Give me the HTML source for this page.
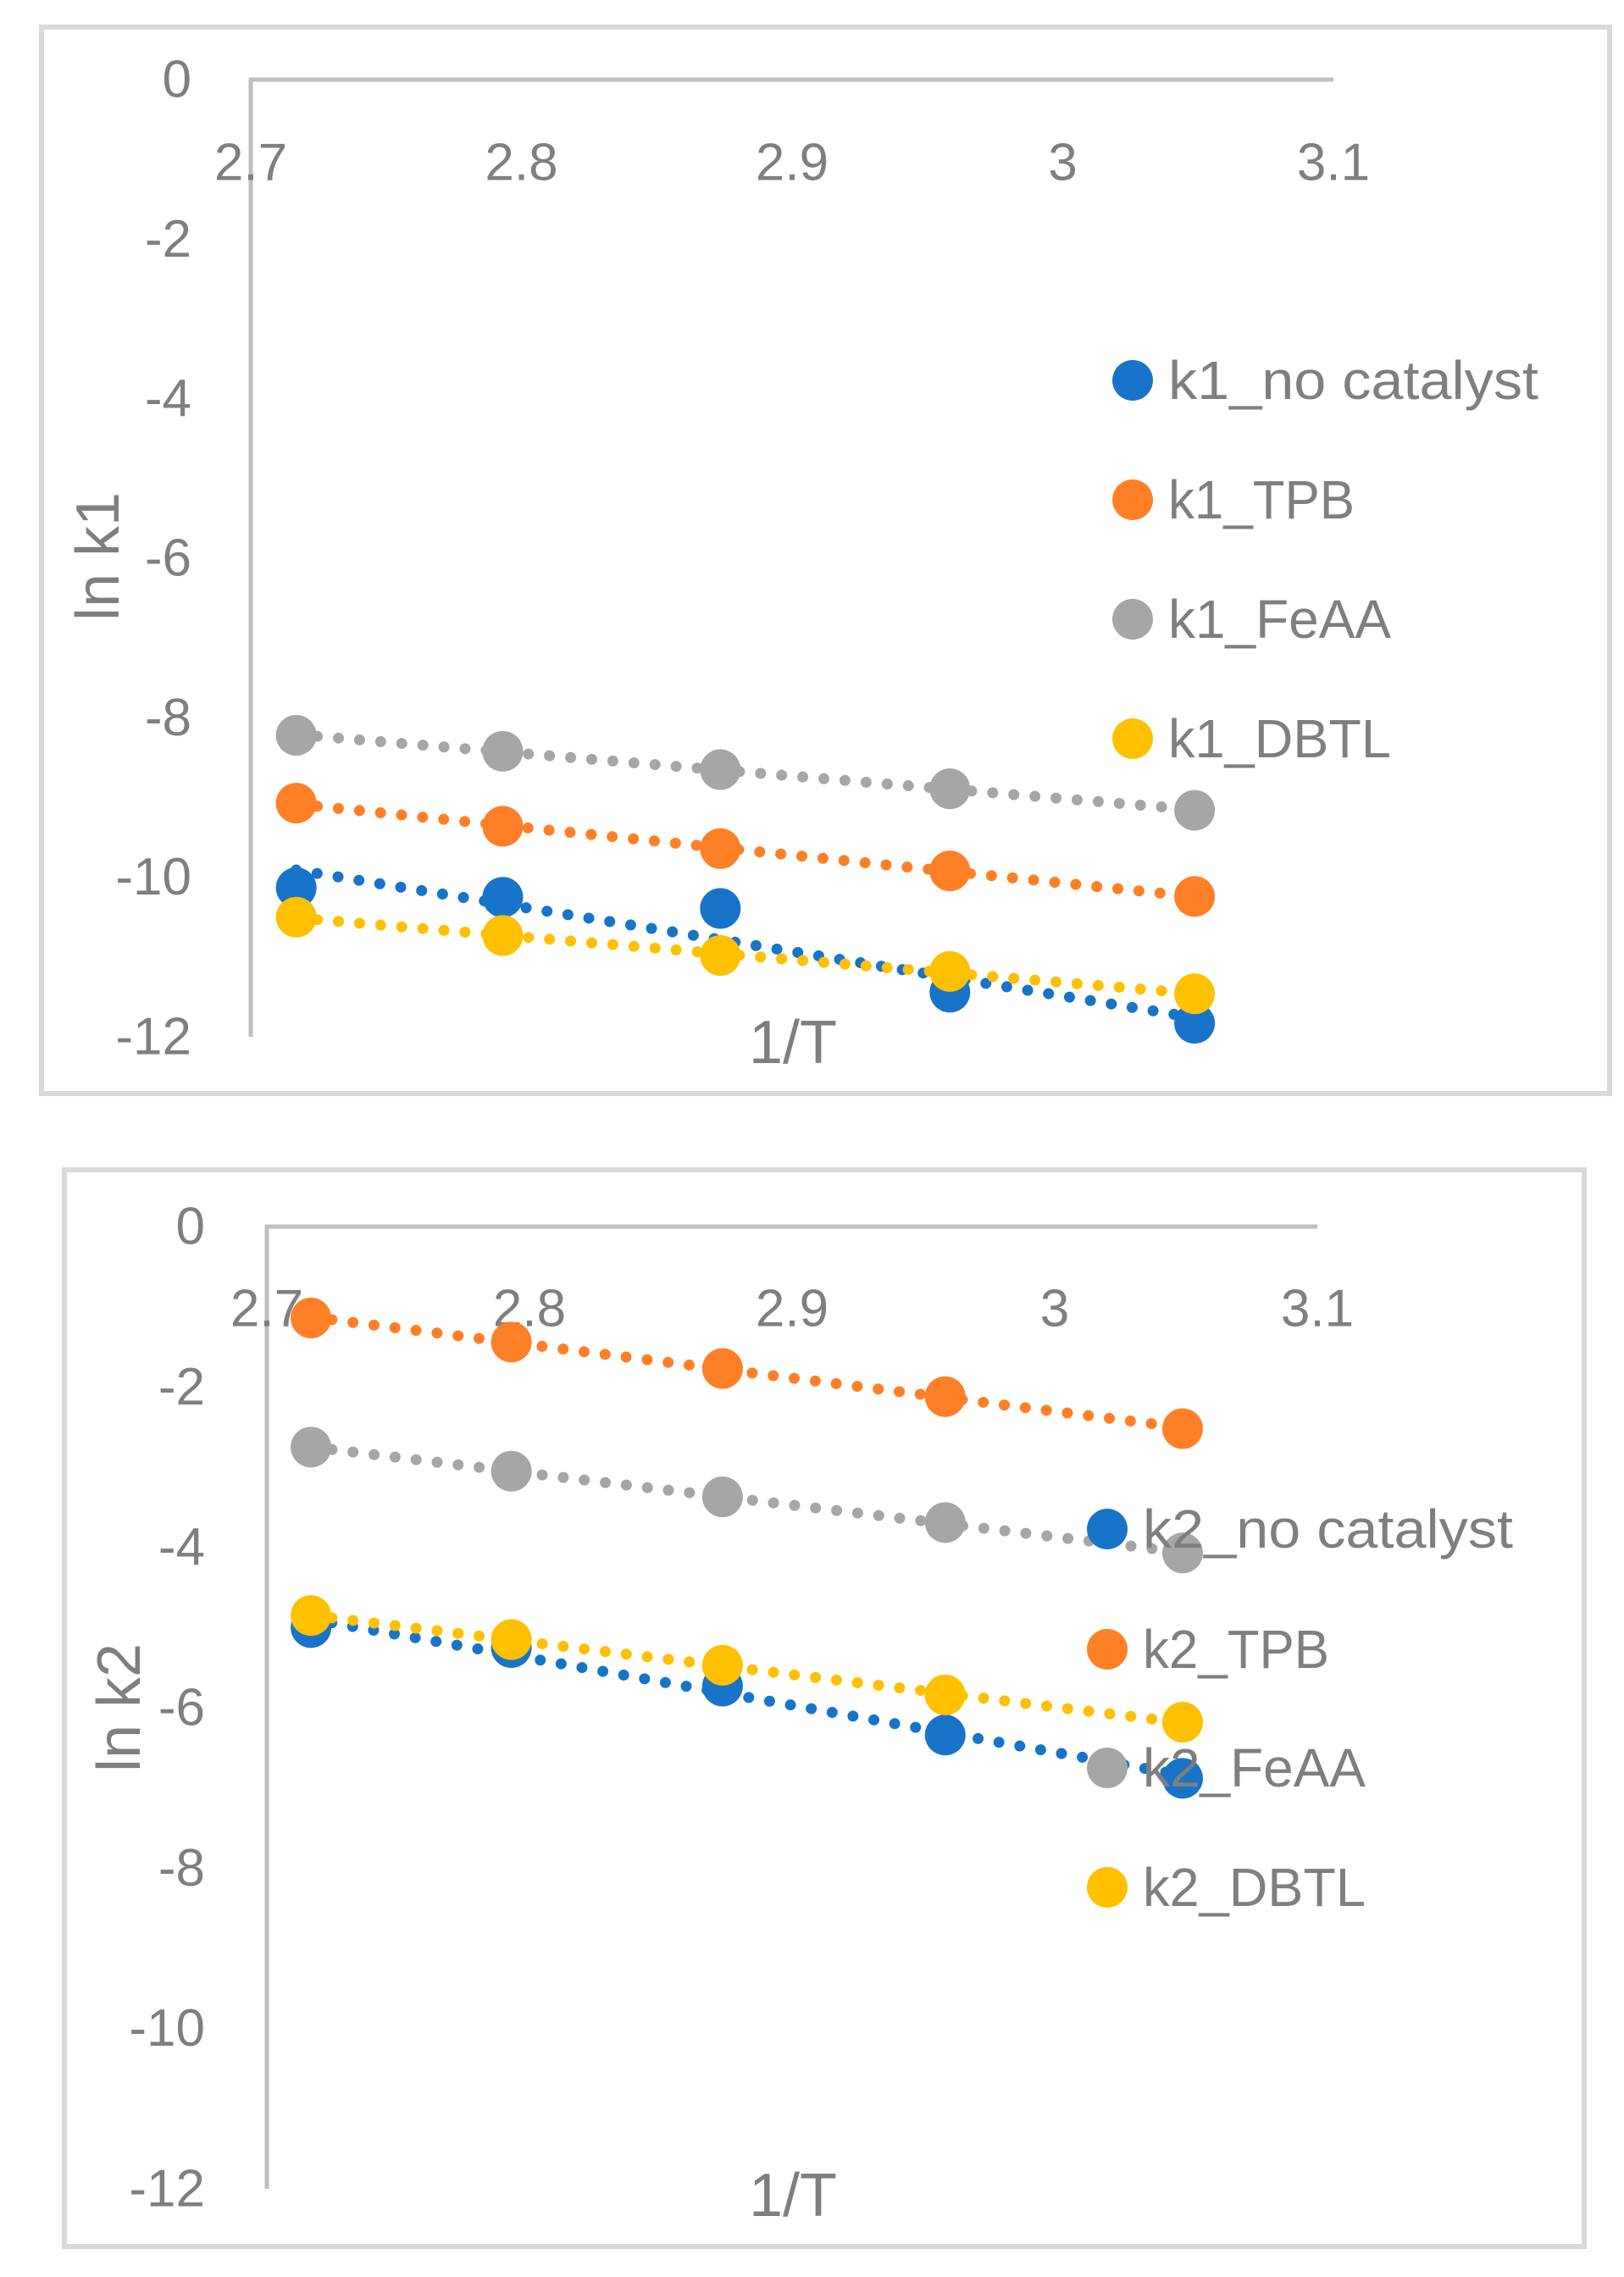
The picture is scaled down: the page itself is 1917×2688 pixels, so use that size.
<!DOCTYPE html>
<html><head><meta charset="utf-8"><style>
html,body{margin:0;padding:0;background:#fff;}
svg{display:block;}
text{font-family:"Liberation Sans",sans-serif;fill:#7f7f7f;}
</style></head><body>
<svg id="svg" width="1917" height="2688" viewBox="0 0 1917 2688" xmlns="http://www.w3.org/2000/svg"></svg>
<script>
const xValues = [2.7168, 2.7931, 2.8735, 2.9583, 3.0487];
const xTicks = [2.7, 2.8, 2.9, 3, 3.1];
const xTickLabels = ["2.7", "2.8", "2.9", "3", "3.1"];
const yTicks = [0, -2, -4, -6, -8, -10, -12];
const yTickLabels = ["0", "-2", "-4", "-6", "-8", "-10", "-12"];
const k1NoCat = [-10.13, -10.25, -10.39, -11.44, -11.83];
const k1TPB = [-9.07, -9.36, -9.64, -9.92, -10.24];
const k1FeAA = [-8.22, -8.42, -8.65, -8.89, -9.16];
const k1DBTL = [-10.50, -10.73, -10.98, -11.18, -11.46];
const k2NoCat = [-5.00, -5.25, -5.73, -6.34, -6.88];
const k2TPB = [-1.14, -1.44, -1.77, -2.12, -2.52];
const k2FeAA = [-2.75, -3.05, -3.37, -3.69, -4.07];
const k2DBTL = [-4.85, -5.15, -5.47, -5.84, -6.18];
const seriesNames1 = ["k1_no catalyst", "k1_TPB", "k1_FeAA", "k1_DBTL"];
const seriesNames2 = ["k2_no catalyst", "k2_TPB", "k2_FeAA", "k2_DBTL"];

const NS = "http://www.w3.org/2000/svg";
const svg = document.getElementById("svg");
const colors = ["#1874C8", "#FF7F27", "#A6A6A6", "#FFC000"];
const legendW = [437, 220, 263, 263];

function mk(tag, attrs, parent) {
  const e = document.createElementNS(NS, tag);
  for (const k in attrs) e.setAttribute(k, attrs[k]);
  (parent || svg).appendChild(e);
  return e;
}

function chart(cfg, data, names, id) {
  const g = mk("g", {});
  
  
  const fr = mk("rect", {x: cfg.fl, y: cfg.ft, width: cfg.fr - cfg.fl, height: cfg.fb - cfg.ft, fill: "#fff", stroke: "#d9d9d9", "stroke-width": 6}, g);
  
  
  const sx = v => cfg.x0 + (v - 2.7) / 0.4 * (cfg.x1 - cfg.x0);
  const sy = v => cfg.y0 + (-v) / 12 * (cfg.y1 - cfg.y0);
  const ya = mk("line", {x1: sx(2.7), x2: sx(2.7), y1: sy(0) - 2, y2: sy(-12), stroke: "#bfbfbf", "stroke-width": 5}, g);
  
  
  const xa = mk("line", {x1: sx(2.7) - 2, x2: sx(3.1), y1: sy(0), y2: sy(0), stroke: "#bfbfbf", "stroke-width": 5}, g);
  
  
  xTicks.forEach((t, i) => {
    const tx = mk("text", {x: sx(t), y: cfg.tickY, "font-size": 62, "text-anchor": "middle", "dominant-baseline": "central"}, g);
    tx.textContent = xTickLabels[i];
    
    
  });
  yTicks.forEach((t, i) => {
    const tx = mk("text", {x: cfg.yLabR, y: sy(t), "font-size": 62, "text-anchor": "end", "dominant-baseline": "central"}, g);
    tx.textContent = yTickLabels[i];
    
    
  });
  const yt = mk("text", {x: 0, y: 0, "font-size": 72, "text-anchor": "middle", "dominant-baseline": "central", transform: `translate(${cfg.ytX},${cfg.ytY}) rotate(-90)`}, g);
  yt.textContent = cfg.yTitle;
  
  
  const xt = mk("text", {x: 936, y: cfg.xtY, "font-size": 72, "text-anchor": "middle", "dominant-baseline": "central"}, g);
  xt.textContent = "1/T";
  
  
  data.forEach((ys, si) => {
    const sg = mk("g", {}, g);
    
    
    const n = xValues.length;
    const mx = xValues.reduce((a, b) => a + b) / n, my = ys.reduce((a, b) => a + b) / n;
    let num = 0, den = 0;
    xValues.forEach((x, i) => { num += (x - mx) * (ys[i] - my); den += (x - mx) * (x - mx); });
    const b = num / den, a = my - b * mx;
    const xa0 = xValues[0], xa1 = xValues[n - 1];
    const tl = mk("line", {x1: sx(xa0), y1: sy(a + b * xa0), x2: sx(xa1), y2: sy(a + b * xa1), stroke: colors[si], "stroke-width": 13, "stroke-linecap": "round", "stroke-dasharray": "0 25"}, sg);
    
    
    xValues.forEach((x, i) => {
      const c = mk("circle", {cx: sx(x), cy: sy(ys[i]), r: 24, fill: colors[si]}, sg);
      
      
    });
  });
  names.forEach((nm, i) => {
    const lg = mk("g", {}, g);
    
    
    const ly = cfg.legY[i];
    mk("circle", {cx: cfg.legX, cy: ly, r: 24, fill: colors[i]}, lg);
    const t = mk("text", {x: cfg.legX + 42, y: ly, "font-size": 64, "dominant-baseline": "central", textLength: legendW[i], lengthAdjust: "spacingAndGlyphs"}, lg);
    t.textContent = nm;
  });
}

chart({fl: 49, fr: 1900, ft: 32, fb: 1291, x0: 296, x1: 1574, y0: 94, y1: 1224, tickY: 192, yLabR: 226,
  ytX: 116, ytY: 657, yTitle: "ln k1", xtY: 1231, legX: 1337, legY: [449, 590, 731, 872]},
  [k1NoCat, k1TPB, k1FeAA, k1DBTL], seriesNames1, "chart-ln-k1");
chart({fl: 76, fr: 1870, ft: 1381, fb: 2652, x0: 315, x1: 1555, y0: 1448, y1: 2584, tickY: 1545, yLabR: 242,
  ytX: 141, ytY: 2016, yTitle: "ln k2", xtY: 2592, legX: 1307, legY: [1805, 1947, 2087, 2228]},
  [k2NoCat, k2TPB, k2FeAA, k2DBTL], seriesNames2, "chart-ln-k2");
</script>
</body></html>
